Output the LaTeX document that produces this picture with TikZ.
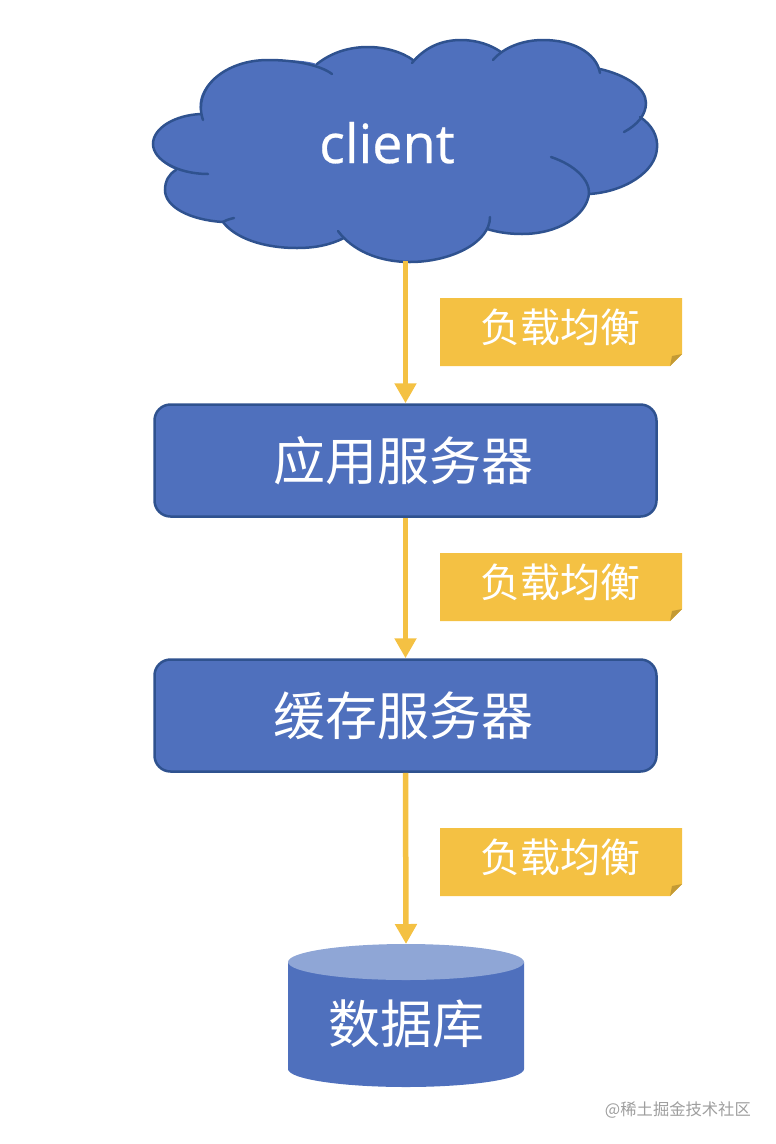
\documentclass[tikz,border=0pt]{standalone}
\usepackage{fontspec}
\usetikzlibrary{arrows.meta}
\newfontfamily\cjk{Noto Sans CJK SC}
\setmainfont{Open Sans}
\newfontfamily\clientfont[FakeBold=0.5]{Open Sans}
\definecolor{blueA}{HTML}{4F70BD}
\definecolor{blueB}{HTML}{2F528F}
\definecolor{blueC}{HTML}{8FA6D6}
\definecolor{gold}{HTML}{F4C143}
\definecolor{goldD}{HTML}{C39A35}
\definecolor{mark}{HTML}{9E9E9E}
\tikzset{
  x=1pt,y=-1pt,
  server/.style={draw=blueB,line width=2.5pt,fill=blueA,rounded corners=16pt,minimum width=502pt,minimum height=112pt,text=white,inner sep=0pt,font=\cjk\fontsize{52}{60}\selectfont},
  flow/.style={draw=gold,line width=5.5pt,-{Triangle[width=21pt,length=20pt]},shorten >=0pt},
  notetext/.style={text=white,inner sep=0pt,font=\cjk\fontsize{40}{46}\selectfont},
  notefill/.style={fill=gold,draw=none},
  foldfill/.style={fill=goldD,draw=none},
  cloudline/.style={draw=blueB,line width=2.5pt,line cap=round},
}
\begin{document}
\begin{tikzpicture}
\useasboundingbox (0,0) rectangle (776,1144);
% cloud
\fill[blueA] (201,114)
  .. controls (192,88) and (225,60) .. (268,60)
  .. controls (288,60) and (305,60) .. (317,64)
  .. controls (332,52) and (350,47) .. (368,47)
  .. controls (385,47) and (400,52) .. (413,60)
  .. controls (425,47) and (442,40) .. (461,40)
  .. controls (477,40) and (491,45) .. (501,52)
  .. controls (512,44) and (527,40) .. (543,40)
  .. controls (572,40) and (596,52) .. (600,69)
  .. controls (626,75) and (646,88) .. (646,103)
  .. controls (646,108) and (644,113) .. (640,117)
  .. controls (652,125) and (658,136) .. (657,148)
  .. controls (656,172) and (624,192) .. (589,194)
  .. controls (586,216) and (558,234) .. (522,234)
  .. controls (508,234) and (497,232) .. (487,229)
  .. controls (476,248) and (444,262) .. (410,262)
  .. controls (381,262) and (357,252) .. (344,238)
  .. controls (330,245) and (315,248) .. (297,248)
  .. controls (263,248) and (235,238) .. (223,222)
  .. controls (190,220) and (165,207) .. (165,190)
  .. controls (165,181) and (169,174) .. (176,170)
  .. controls (162,164) and (153,154) .. (153,144)
  .. controls (153,128) and (175,115) .. (201,114) -- cycle;
\begin{scope}[cloudline]
  \draw (203,120) .. controls (192,88) and (225,60) .. (268,60) .. controls (295,60) and (320,65) .. (332,74);
  \draw (317,64) .. controls (332,52) and (350,47) .. (368,47) .. controls (385,47) and (402,52) .. (413,60);
  \draw (412,63) .. controls (425,47) and (442,40) .. (461,40) .. controls (477,40) and (491,45) .. (501,52);
  \draw (493,60) .. controls (505,46) and (525,40) .. (543,40) .. controls (572,40) and (596,52) .. (600,73);
  \draw (600,69) .. controls (626,75) and (646,88) .. (646,103) .. controls (646,115) and (637,125) .. (624,132);
  \draw (640,117) .. controls (652,125) and (658,136) .. (657,148) .. controls (656,172) and (624,192) .. (589,194);
  \draw (551,157) .. controls (575,165) and (590,180) .. (589,194) .. controls (586,216) and (558,234) .. (522,234) .. controls (508,234) and (497,232) .. (487,229);
  \draw (490,217) .. controls (490,243) and (450,262) .. (410,262) .. controls (378,262) and (352,250) .. (338,231);
  \draw (344,238) .. controls (330,245) and (315,248) .. (297,248) .. controls (263,248) and (235,238) .. (223,222) .. controls (226,220) and (230,219) .. (234,218);
  \draw (223,222) .. controls (190,220) and (165,207) .. (165,190) .. controls (165,181) and (169,174) .. (176,170);
  \draw (208,174) .. controls (178,174) and (153,160) .. (153,144) .. controls (153,128) and (175,115) .. (201,114);
\end{scope}
\node[text=white,inner sep=0pt,anchor=base,font=\clientfont\fontsize{54}{60}\selectfont] (client) at (387,163) {client};
\coordinate (cloudbottom) at (405.5,261);
% servers
\node[server] (app) at (405.5,460.5) {应用服务器\kern5pt};
\node[server] (cache) at (405.5,715.5) {缓存服务器\kern5pt};
% database
\coordinate (dbtop) at (406,944);
\fill[blueA] (288,962) -- (288,1069) arc[start angle=180,end angle=0,x radius=118,y radius=18] -- (524,962) -- cycle;
\fill[blueC] (406,962) ellipse [x radius=118,y radius=18];
\node[text=white,inner sep=0pt,font=\cjk\fontsize{52}{60}\selectfont] (db) at (406,1024) {数据库};
% connectors
\draw[flow] (cloudbottom) -- (app.north);
\draw[flow] (app.south) -- (cache.north);
\draw[flow] (cache.south) -- (dbtop);
% notes
\fill[notefill] (440,298) -- (682,298) -- (682,354) -- (670,366) -- (440,366) -- cycle;
\fill[foldfill] (682,354) -- (670,366) -- (672,356) -- cycle;
\node[notetext] (noteA) at (560,327) {负载均衡};
\fill[notefill] (440,553) -- (682,553) -- (682,609) -- (670,621) -- (440,621) -- cycle;
\fill[foldfill] (682,609) -- (670,621) -- (672,611) -- cycle;
\node[notetext] (noteB) at (560,582) {负载均衡};
\fill[notefill] (440,828) -- (682,828) -- (682,884) -- (670,896) -- (440,896) -- cycle;
\fill[foldfill] (682,884) -- (670,896) -- (672,886) -- cycle;
\node[notetext] (noteC) at (560,857) {负载均衡};
% watermark
\node[text=mark,inner sep=0pt,anchor=east,font=\cjk\fontsize{16.3}{20}\selectfont] (mark) at (751,1110) {@稀土掘金技术社区};
\end{tikzpicture}
\end{document}
